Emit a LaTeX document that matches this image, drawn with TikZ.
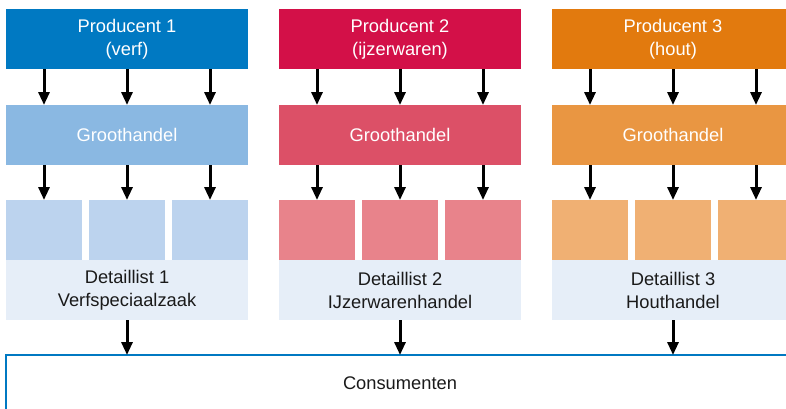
\documentclass[tikz,border=0pt]{standalone}
\usepackage{fontspec}
\setmainfont{Liberation Sans}
\usetikzlibrary{arrows.meta}
\definecolor{pA}{RGB}{0,121,194}
\definecolor{gA}{RGB}{138,184,226}
\definecolor{sA}{RGB}{188,211,238}
\definecolor{pB}{RGB}{211,16,72}
\definecolor{gB}{RGB}{220,80,103}
\definecolor{sB}{RGB}{232,131,139}
\definecolor{pC}{RGB}{226,122,14}
\definecolor{gC}{RGB}{233,150,66}
\definecolor{sC}{RGB}{240,176,115}
\definecolor{detbg}{RGB}{230,238,248}
\definecolor{txtdark}{RGB}{26,26,26}
\tikzset{
  basebox/.style={rectangle, inner sep=0pt, outer sep=0pt, align=center,
    font=\fontsize{18.3}{23}\selectfont},
  prodbox/.style={basebox, minimum width=242pt, minimum height=60pt, text=white},
  smallbox/.style={rectangle, inner sep=0pt, outer sep=0pt, minimum width=76pt, minimum height=60pt},
  detbox/.style={basebox, fill=detbg, minimum width=242pt, minimum height=60pt, text=txtdark},
  consbox/.style={basebox, draw=pA, line width=2.5pt, minimum width=788pt, minimum height=56pt, text=txtdark},
  arr/.style={-{Triangle[length=13pt,width=11pt]}, line width=3pt, black}
}
\begin{document}
\begin{tikzpicture}[x=1pt,y=-1pt]
\useasboundingbox (0,0) rectangle (786,408);
\clip (0,0) rectangle (786,408);
\node[consbox] (c) at (400,383) {Consumenten};
\foreach \i/\cx/\pc/\gc/\sc/\ta/\tb/\tc/\td in {
  1/127/pA/gA/sA/Producent 1/(verf)/Detaillist 1/Verfspeciaalzaak,
  2/400/pB/gB/sB/Producent 2/(ijzerwaren)/Detaillist 2/IJzerwarenhandel,
  3/673/pC/gC/sC/Producent 3/(hout)/Detaillist 3/Houthandel}{
  \node[prodbox, fill=\pc] (p\i) at (\cx,39) {\ta\\\tb};
  \node[prodbox, fill=\gc] (g\i) at (\cx,135) {Groothandel};
  \node[smallbox, fill=\sc] (s\i-1) at (\cx-83,230) {};
  \node[smallbox, fill=\sc] (s\i-2) at (\cx,230) {};
  \node[smallbox, fill=\sc] (s\i-3) at (\cx+83,230) {};
  \node[detbox] (d\i) at (\cx,290) {\tc\\\td};
  \foreach \j in {1,2,3}{
    \draw[arr] (p\i.south -| s\i-\j.north) -- (g\i.north -| s\i-\j.north);
    \draw[arr] (g\i.south -| s\i-\j.north) -- (s\i-\j.north);
  }
  \draw[arr] (d\i.south) -- (d\i.south |- c.north);
}
\end{tikzpicture}
\end{document}
